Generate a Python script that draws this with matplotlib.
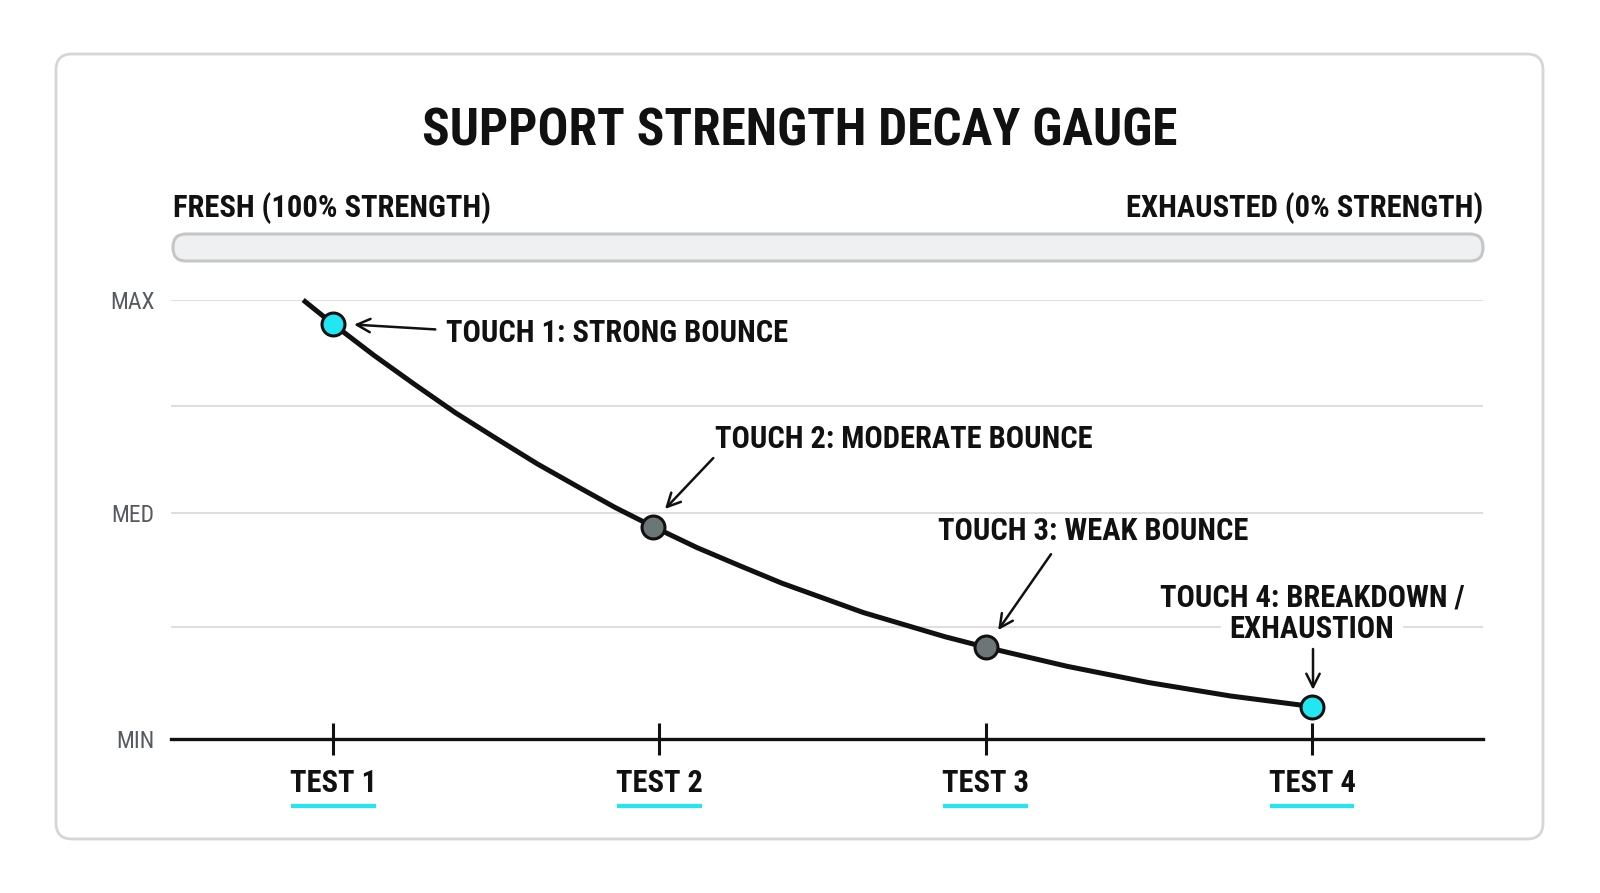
import matplotlib
matplotlib.use("Agg")
import matplotlib.pyplot as plt
from matplotlib import font_manager as fm
from matplotlib.patches import FancyBboxPatch


tests = ["TEST 1", "TEST 2", "TEST 3", "TEST 4"]
test_x = [1, 2, 3, 4]
levels = [0, 25.6, 51.4, 75.8, 100]
level_labels = ["MIN", "", "MED", "", "MAX"]

# touch points (strength on a 0-100 scale)
touch_x = [1.0, 1.98, 3.0, 4.0]
touch_strength = [94.5, 48.4, 20.9, 7.4]
touch_colors = ["#22e6f2", "#6d7677", "#6d7677", "#22e6f2"]
touch_labels = [
    "TOUCH 1: STRONG BOUNCE",
    "TOUCH 2: MODERATE BOUNCE",
    "TOUCH 3: WEAK BOUNCE",
    "TOUCH 4: BREAKDOWN /",
]

# decay curve
curve_x = [0.908, 1.0, 1.125, 1.25, 1.375, 1.5, 1.625, 1.75, 1.865, 1.98,
           2.115, 2.25, 2.375, 2.5, 2.625, 2.75, 2.875, 3.0,
           3.25, 3.5, 3.75, 4.0]
curve_y = [100.0, 94.5, 87.4, 80.75, 74.3, 68.45, 62.7, 57.45, 52.7, 48.4,
           43.6, 39.35, 35.5, 32.15, 28.8, 26.05, 23.3, 20.9,
           16.55, 12.85, 9.8, 7.4]


def pick_font(cands):
    for c in cands:
        try:
            fm.findfont(fm.FontProperties(family=c), fallback_to_default=False)
            return c
        except ValueError:
            pass
    return "DejaVu Sans"


FONT = pick_font(["Roboto Condensed", "Liberation Sans Narrow", "Roboto"])
NARROW = FONT != "Roboto"
plt.rcParams["font.family"] = [FONT, "DejaVu Sans"]

s = 1.0 if NARROW else 0.82
TITLE_SIZE = 37 * s
LABEL_SIZE = 22 * s

fig = plt.figure(figsize=(16, 8.93), dpi=100)

# background layer in pixel units
bg = fig.add_axes([0, 0, 1, 1], zorder=0)
bg.set_xlim(0, 1600)
bg.set_ylim(893, 0)
bg.axis("off")
bg.add_patch(FancyBboxPatch((56, 54), 1487, 785, boxstyle="round,pad=0,rounding_size=16",
                            facecolor="white", edgecolor="#d6d6d6", linewidth=2))
bg.add_patch(FancyBboxPatch((173, 234), 1310, 27, boxstyle="round,pad=0,rounding_size=13",
                            facecolor="#eff0f2", edgecolor="#c4c6c8", linewidth=2.2))
bg.text(800, 132, "SUPPORT STRENGTH DECAY GAUGE", ha="center", va="center",
        fontsize=TITLE_SIZE, fontweight="bold", color="#111111")
bg.text(173, 208, "FRESH (100% STRENGTH)", ha="left", va="center",
        fontsize=LABEL_SIZE, fontweight="bold", color="#111111")
bg.text(1483, 208, "EXHAUSTED (0% STRENGTH)", ha="right", va="center",
        fontsize=LABEL_SIZE, fontweight="bold", color="#111111")

# main chart
ax = fig.add_axes([171 / 1600, 1 - 739 / 893, 1312 / 1600, 439 / 893], zorder=1)
ax.patch.set_alpha(0)
ax.set_xlim(0.503, 4.524)
ax.set_ylim(0, 100)

ax.set_yticks(levels)
ax.set_yticklabels(level_labels)
ax.tick_params(axis="y", length=0, pad=12, labelsize=17 * s, labelcolor="#555b60")
ax.grid(axis="y", color="#d4d4d4", linewidth=1.1)
ax.set_axisbelow(True)

for side in ["top", "right", "left"]:
    ax.spines[side].set_visible(False)
ax.spines["bottom"].set_linewidth(2.4)
ax.spines["bottom"].set_color("#111111")

ax.set_xticks(test_x)
ax.set_xticklabels(tests, fontweight="bold")
ax.tick_params(axis="x", direction="inout", length=23, width=2.2, color="#111111",
               pad=9.5, labelsize=LABEL_SIZE, labelcolor="#111111")

for x in test_x:
    ax.plot([x - 0.13, x + 0.13], [-15.3, -15.3], color="#22e6f2", linewidth=3,
            solid_capstyle="butt", clip_on=False)

ax.plot(curve_x, curve_y, color="#111111", linewidth=3.6, solid_joinstyle="round",
        solid_capstyle="butt", clip_on=False, zorder=3)
for x, y, c in zip(touch_x, touch_strength, touch_colors):
    ax.plot(x, y, "o", markersize=16.5, markerfacecolor=c, markeredgecolor="#111111",
            markeredgewidth=2.2, clip_on=False, zorder=4)

arrow = dict(arrowstyle="->", color="#111111", lw=1.8, mutation_scale=24,
             shrinkA=0, shrinkB=0)
# arrows: (tail, head)
ax.annotate("", xy=(1.064, 94.4), xytext=(1.313, 93.3), arrowprops=arrow)
ax.annotate("", xy=(2.017, 52.4), xytext=(2.165, 64.0), arrowprops=arrow)
ax.annotate("", xy=(3.038, 24.8), xytext=(3.200, 42.1), arrowprops=arrow)
ax.annotate("", xy=(4.003, 11.2), xytext=(4.003, 20.5), arrowprops=arrow)

txt = dict(fontsize=LABEL_SIZE, fontweight="bold", color="#111111", va="center")
ax.text(1.346, 92.5, touch_labels[0], ha="left", **txt)
ax.text(2.171, 68.3, touch_labels[1], ha="left", **txt)
ax.text(2.854, 47.4, touch_labels[2], ha="left", **txt)
ax.text(4.0, 32.3, touch_labels[3], ha="center", **txt)
ax.text(4.0, 25.0, "EXHAUSTION", ha="center", zorder=2,
        bbox=dict(facecolor="white", edgecolor="none", pad=6), **txt)

fig.savefig("out.png", dpi=100)
